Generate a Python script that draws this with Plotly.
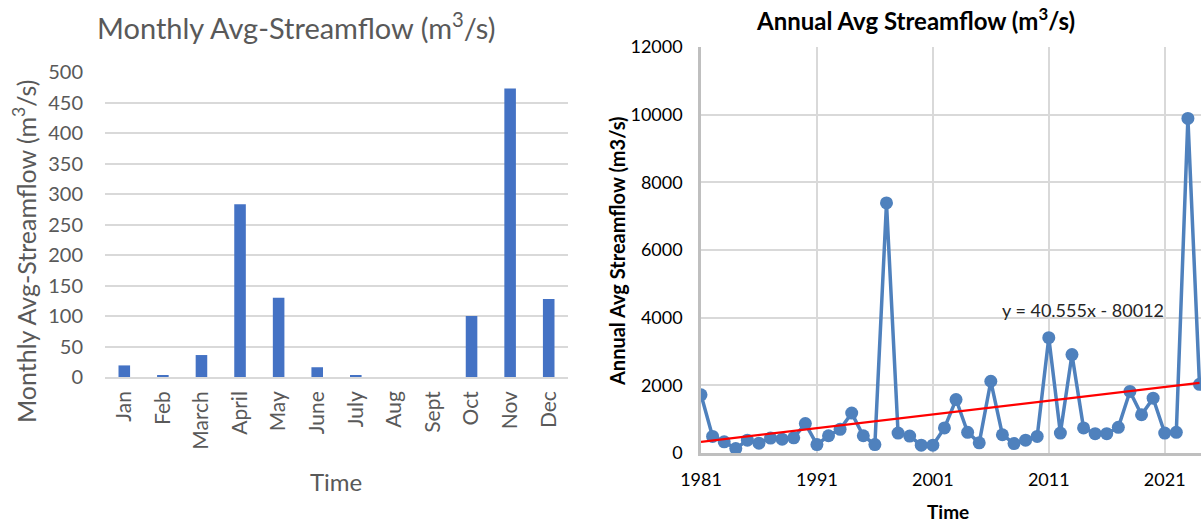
"""Monthly and annual average streamflow, side by side."""

import plotly.graph_objects as go

# Monthly average streamflow (m3/s)
MONTHS = ["Jan", "Feb", "March", "April", "May", "June", "July", "Aug", "Sept", "Oct", "Nov", "Dec"]
MONTHLY_FLOW = [19, 3, 36, 283, 130, 16, 3, 0, 0, 100, 473, 128]

# Annual average streamflow (m3/s)
YEARS = list(range(1981, 2025))
ANNUAL_FLOW = [
    1720, 490, 330, 130, 380, 290, 440, 410, 450, 870,
    250, 510, 700, 1180, 510, 250, 7390, 590, 500, 230,
    230, 740, 1580, 610, 300, 2120, 540, 280, 380, 490,
    3410, 590, 2910, 740, 570, 570, 760, 1820, 1130, 1620,
    590, 610, 9890, 2030,
]

# Linear trend as printed on the chart
TREND_SLOPE = 40.555
TREND_INTERCEPT = -80012

FONT = "Lato"
GREY_TEXT = "#595959"
GRID = "#d9d9d9"

W, H = 1201, 524


def px_x(x):
    return x / W


def px_y(y):
    return 1 - y / H


def label(text, x, y, size, color, angle=0):
    return dict(
        text=text, x=px_x(x), y=px_y(y), xref="paper", yref="paper",
        xanchor="center", yanchor="middle", textangle=angle,
        showarrow=False, font=dict(size=size, color=color),
    )


fig = go.Figure()

fig.add_trace(
    go.Bar(
        x=MONTHS,
        y=MONTHLY_FLOW,
        marker=dict(color="#4472c4", line=dict(width=0)),
        xaxis="x",
        yaxis="y",
        showlegend=False,
    )
)

fig.add_trace(
    go.Scatter(
        x=YEARS,
        y=ANNUAL_FLOW,
        mode="lines+markers",
        line=dict(color="#4f81bd", width=3.5),
        marker=dict(color="#4f81bd", size=13),
        xaxis="x2",
        yaxis="y2",
        showlegend=False,
    )
)

trend_x = [YEARS[0], YEARS[-1]]
trend_y = [TREND_SLOPE * x + TREND_INTERCEPT for x in trend_x]
fig.add_trace(
    go.Scatter(
        x=trend_x,
        y=trend_y,
        mode="lines",
        line=dict(color="#ff0000", width=2.2),
        xaxis="x2",
        yaxis="y2",
        showlegend=False,
    )
)

fig.update_layout(
    template="none",
    width=W,
    height=H,
    margin=dict(l=0, r=0, t=0, b=0),
    paper_bgcolor="white",
    plot_bgcolor="white",
    bargap=0.7,
    font=dict(family=FONT, color=GREY_TEXT),
    xaxis=dict(
        domain=[px_x(105), px_x(568)],
        anchor="y",
        automargin=False,
        tickangle=-90,
        tickfont=dict(size=21, color=GREY_TEXT),
        showgrid=False,
        showline=True,
        linecolor=GRID,
        linewidth=1.5,
        ticks="",
        zeroline=False,
        ticklabelstandoff=4,
    ),
    yaxis=dict(
        domain=[px_y(377), px_y(72)],
        anchor="x",
        automargin=False,
        range=[0, 500],
        dtick=50,
        tickfont=dict(size=20, color=GREY_TEXT),
        gridcolor=GRID,
        gridwidth=1.5,
        zeroline=False,
        showline=False,
        ticks="",
        ticklabelstandoff=21,
    ),
    xaxis2=dict(
        domain=[px_x(701), 1.0],
        anchor="y2",
        automargin=False,
        range=[1981, 2024.13],
        tick0=1981,
        dtick=10,
        tickformat="d",
        tickfont=dict(size=18, color="#000000"),
        gridcolor=GRID,
        gridwidth=2,
        showline=True,
        linecolor="#bfbfbf",
        linewidth=2.5,
        zeroline=False,
        ticks="",
        ticklabelstandoff=9,
    ),
    yaxis2=dict(
        domain=[px_y(453), px_y(47)],
        anchor="x2",
        automargin=False,
        range=[0, 12000],
        dtick=2000,
        tickformat="d",
        tickfont=dict(size=18, color="#000000"),
        gridcolor=GRID,
        gridwidth=2,
        showline=True,
        linecolor="#bfbfbf",
        linewidth=2.5,
        zeroline=False,
        ticks="",
        ticklabelstandoff=12,
    ),
    annotations=[
        label("Monthly Avg-Streamflow (m<sup>3</sup>/s)", 296, 26, 29, GREY_TEXT),
        label("Monthly Avg-Streamflow (m<sup>3</sup>/s)", 25, 251, 25, GREY_TEXT, -90),
        label("Time", 336, 481, 24, GREY_TEXT),
        label("<b>Annual Avg Streamflow (m<sup>3</sup>/s)</b>", 915, 19, 24, "#000000"),
        label("<b>Annual Avg Streamflow (m3/s)</b>", 617, 251, 20, "#000000", -90),
        label("<b>Time</b>", 948, 511, 19, "#000000"),
        label("y = 40.555x - 80012", 1083, 310, 18, "#262626"),
    ],
)

# drop the default 8px body margin so the figure fills the window exactly
fig.write_html(
    "out.html",
    config={"displayModeBar": False},
    post_script="document.body.style.margin='0';document.body.style.overflow='hidden';",
)
